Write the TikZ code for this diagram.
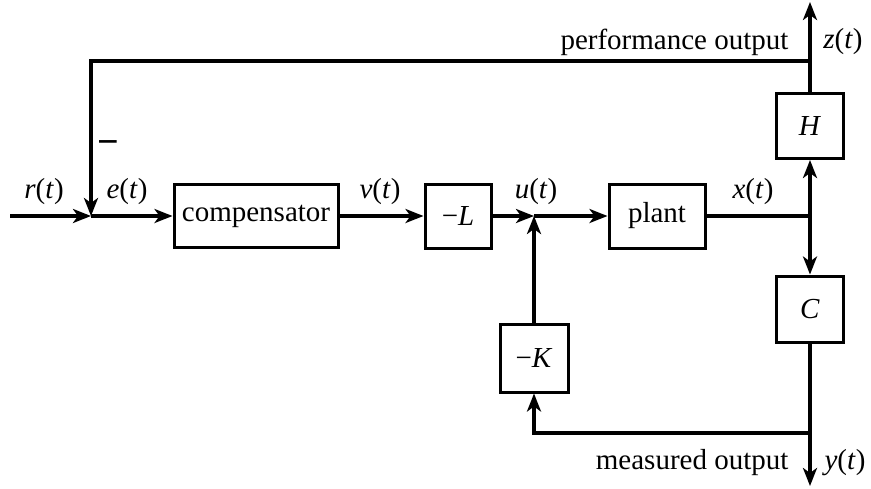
\documentclass[tikz,border=0pt]{standalone}
\usepackage{fontspec}
\setmainfont{Liberation Serif}
\usetikzlibrary{arrows.meta}
\newcommand{\vr}[1]{\textit{#1}(\textit{t\/})}
\begin{document}
\begin{tikzpicture}[x=1pt,y=-1pt,
  line width=3.2pt,
  >={Stealth[length=18pt,width=14pt,inset=5pt]},
  blk/.style={draw,line width=3pt,inner sep=0pt,font=\fontsize{29}{32}\selectfont},
  lbl/.style={font=\fontsize{29}{32}\selectfont,inner sep=0pt}]
\useasboundingbox (0,0) rectangle (871,488);
% blocks
\node[blk,minimum width=164pt,minimum height=63pt] (comp) at (256,216) {compensator};
\node[blk,minimum width=66pt,minimum height=64pt] (L) at (458,216) {−\textit{L}};
\node[blk,minimum width=96pt,minimum height=64pt] (plant) at (657,216) {plant};
\node[blk,minimum width=67pt,minimum height=65pt] (H) at (810,126) {\textit{H}};
\node[blk,minimum width=67pt,minimum height=66pt] (C) at (810,309) {\textit{C}};
\node[blk,minimum width=68pt,minimum height=68pt] (K) at (534,358) {−\textit{K}};
% coordinates
\coordinate (in) at (10,216);
\coordinate (sum) at (91,216);
\coordinate (tl) at (91,61);
\coordinate (tr) at (810,61);
\coordinate (ztop) at (810,2);
\coordinate (xj) at (810,216);
\coordinate (uj) at (534,216);
\coordinate (br) at (810,433);
\coordinate (bl) at (534,433);
\coordinate (ybot) at (810,486);
% connectors
\draw[->] (in) -- (sum);
\draw[->] (tr) -- (tl) -- (sum);
\draw[->] (sum) -- (comp.west);
\draw[->] (comp.east) -- (L.west);
\draw[->] (L.east) -- (uj);
\draw[->] (uj) -- (plant.west);
\draw (plant.east) -- (xj);
\draw[->] (xj) -- (H.south);
\draw[->] (xj) -- (C.north);
\draw[->] (H.north) -- (ztop);
\draw[->] (C.south) -- (ybot);
\draw[->] (br) -- (bl) -- (K.south);
\draw[->] (K.north) -- (uj);
% labels
\node[lbl,font=\fontsize{38}{40}\bfseries] (minus) at (108,148) {−};
\node[lbl] (rl) at (44,192) {\vr{r}};
\node[lbl] (el) at (127,192) {\vr{e}};
\node[lbl] (vl) at (380,192) {\vr{v}};
\node[lbl] (ul) at (536,192) {\vr{u}};
\node[lbl] (xl) at (753,192) {\vr{x}};
\node[lbl,anchor=east] (po) at (790,42) {performance output};
\node[lbl] (zl) at (843,42) {\vr{z}};
\node[lbl,anchor=east] (mo) at (790,463) {measured output};
\node[lbl] (yl) at (845,463) {\vr{y}};
\end{tikzpicture}
\end{document}
